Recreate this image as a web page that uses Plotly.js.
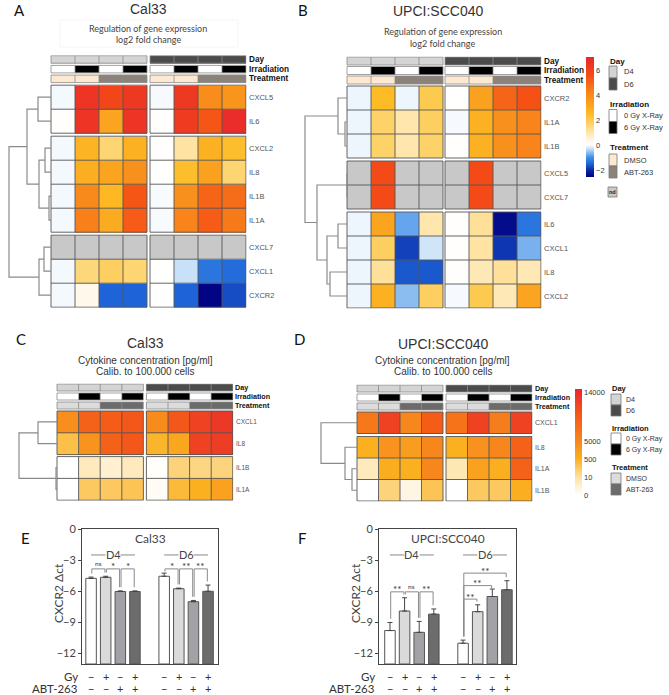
<!DOCTYPE html>
<html><head><meta charset="utf-8">
<script src="https://cdn.plot.ly/plotly-3.0.1.min.js"></script>
<style>body{margin:0;background:#fff}#chart{width:669px;height:695px}</style>
</head><body><div id="chart"></div>
<script>
// ================= DATA =================
// column annotation (8 columns: D4 x4, D6 x4)
const annDay   = [0,0,0,0,1,1,1,1];
const annIrr   = [0,1,0,1,0,1,0,1];
const annTreat = [0,0,1,1,0,0,1,1];
const dayNames = ['D4','D6'];
const irrNames = ['0 Gy X-Ray','6 Gy X-Ray'];
const treatNames = ['DMSO','ABT-263'];

// Panel A: Cal33 log2 fold change (null = nd)
const genesA = ['CXCL5','IL6','CXCL2','IL8','IL1B','IL1A','CXCL7','CXCL1','CXCR2'];
const groupsA = [2,4,3];
const fcA = [
  [-0.06, 6.5, 5.8, 6.3, -0.05, 6.3, 3.9, 3.7],
  [ 0.05, 6.5, 3.2, 6.5,  0.04, 6.2, 5.3, 6.8],
  [-0.06, 2.7, 1.6, 2.8,  0.03, 1.1, 2.8, 2.4],
  [-0.06, 2.9, 3.2, 3.8,  0.02, 2.4, 3.3, 1.6],
  [-0.06, 4.0, 2.6, 5.3, -0.04, 3.8, 5.0, 4.8],
  [-0.06, 4.3, 3.0, 5.2, -0.04, 4.2, 5.2, 4.5],
  [null, null, null, null, null, null, null, null],
  [-0.06, 1.5, 1.8, 1.6,  0.02, -0.3, -1.3, -1.4],
  [-0.06, 0.3, -1.5, -1.5, 0.02, -1.5, -2.5, -1.7]
];
const linkA = [[0,1,13],[2,3,6],[4,5,2],[10,11,12],[9,12,24],[6,7,7],[14,8,12],[13,15,42]];

// Panel B: UPCI:SCC040 log2 fold change
const genesB = ['CXCR2','IL1A','IL1B','CXCL5','CXCL7','IL6','CXCL1','IL8','CXCL2'];
const groupsB = [3,2,4];
const fcB = [
  [-0.1, 2.5, -0.1, 2.0,  0.02, 3.3, 5.0, 5.4],
  [-0.1, 1.7, 1.0, 1.8, -0.05, 2.8, 3.8, 4.2],
  [-0.1, 1.7, 1.0, 1.7,  0.03, 2.8, 3.8, 4.2],
  [null, 5.6, null, null, null, 5.6, null, null],
  [null, 5.6, null, null, null, 5.6, null, null],
  [-0.1, 3.2, -0.8, 1.0,  0.05, 1.2, -2.4, -1.3],
  [-0.1, 1.8, -1.8, -0.25, 0.05, 1.1, -1.9, -0.7],
  [-0.1, 1.2, -1.6, -1.6,  0.05, 0.9, 1.2, 0.9],
  [-0.1, 2.8, -0.6, 1.8, -0.05, 2.0, 0.9, 3.2]
];
const linkB = [[1,2,2],[0,9,9],[3,4,0],[5,6,9],[7,8,17],[12,13,20],[11,14,30],[10,15,42]];

// Panel C: Cal33 cytokine concentration (pg/ml)
const cytC = ['CXCL1','IL8','IL1B','IL1A'];
const groupsC = [2,2];
const concC = [
  [4000, 9000, 9500, 10000, 4500, 10000, 12000, 13000],
  [350, 3500, 9000, 10000, 450, 1500, 12000, 12500],
  [0, 7, 5, 7, 0.5, 150, 120, 140],
  [0, 250, 260, 300, 1, 400, 550, 2000]
];
const linkC = [[0,1,19],[2,3,1],[4,5,38]];

// Panel D: UPCI:SCC040 cytokine concentration (pg/ml)
const cytD = ['CXCL1','IL8','IL1A','IL1B'];
const groupsD = [1,3];
const concD = [
  [6500, 12000, 5000, 9500, 7000, 12000, 6000, 12000],
  [550, 3500, 2500, 5000, 500, 3800, 5000, 9000],
  [7, 800, 500, 5000, 8, 2000, 600, 9000],
  [0, 150, 3, 300, 0, 250, 250, 600]
];
const linkD = [[2,3,5],[1,4,12],[0,5,36]];

// Panels E/F: CXCR2 delta ct (order: D4 [-/-, Gy, ABT, Gy+ABT], D6 same)
const gyFlags  = [0,1,0,1,0,1,0,1];
const abtFlags = [0,0,1,1,0,0,1,1];
const cal33Dct = [-4.75, -4.65, -6.02, -6.02, -4.55, -5.75, -7.0, -6.0];
const cal33Err = [0.12, 0.1, 0.06, 0.06, 0.3, 0.06, 0.12, 0.6];
const cal33Sig = [[0,1,'ns'],[1,2,'*'],[2,3,'*'],[4,5,'*'],[5,6,'**'],[6,7,'**']];
const sccDct = [-9.78, -7.9, -9.95, -8.2, -11.0, -7.96, -6.5, -5.85];
const sccErr = [0.78, 1.28, 1.05, 0.5, 0.3, 0.66, 0.72, 0.87];
const sccSig = [[0,1,'**'],[1,2,'ns'],[2,3,'**'],[4,5,'**'],[4,6,'**'],[4,7,'**']];

// ================= STYLE / LAYOUT =================
const W = 669, H = 695;
const px = x => x / W;
const py = y => 1 - y / H;
const F_AR = 'Liberation Sans, Arial, sans-serif';
const F_CA = 'Lato, Open Sans, sans-serif';

const fcMin = -2.56, fcMax = 7.04;
const fcStops = [[-2.56,'#00007f'],[-2.0,'#0a2aa8'],[-1.5,'#1e64d8'],[-1.0,'#3d8ee8'],[-0.3,'#c8e0f8'],[0,'#ffffff'],[0.5,'#fff3dd'],[1.5,'#fdd87a'],[2.5,'#fdbb25'],[3.5,'#f99a1e'],[4.5,'#f77a1a'],[5.5,'#f54d15'],[7.04,'#e8262e']];
const fcScale = fcStops.map(([v,c]) => [(v - fcMin)/(fcMax - fcMin), c]);

const concBreaks = [0, 10, 500, 5000, 14000, 14800];
const concPos    = [0, 0.17, 0.34, 0.51, 0.965, 1];
function concT(v){
  for (let i=1;i<concBreaks.length;i++){
    if (v <= concBreaks[i]) return concPos[i-1] + (v-concBreaks[i-1])/(concBreaks[i]-concBreaks[i-1])*(concPos[i]-concPos[i-1]);
  }
  return 1;
}
const concScale = [[0,'#ffffff'],[0.17,'#fde1a0'],[0.34,'#fbb020'],[0.51,'#f7861c'],[0.75,'#f45a18'],[1,'#e8262e']];

const dayCols = ['#d4d4d4','#4b4b4b'];
const irrCols = ['#ffffff','#000000'];
const treatColsAB = ['#fde9d2','#8b8279'];
const treatColsCD = ['#dcdcdc','#6b6b6b'];

const traces = [], annotations = [], shapes = [];
const layout = {
  width: W, height: H, margin:{l:0,r:0,t:0,b:0},
  paper_bgcolor:'#ffffff', plot_bgcolor:'rgba(0,0,0,0)',
  showlegend:false, hovermode:false,
  annotations, shapes
};

function axNames(k){
  const s = k === 1 ? '' : String(k);
  return {xa:'x'+s, ya:'y'+s, xl:'xaxis'+s, yl:'yaxis'+s};
}
function txt(x, y, text, size, o){
  annotations.push(Object.assign({xref:'paper', yref:'paper', x:px(x), y:py(y), text, showarrow:false,
    font:{family:F_AR, size, color:'#333'}, xanchor:'center', yanchor:'middle'}, o||{}));
}

function heatPanel(k, geo, P){
  const {xa, ya, xl, yl} = axNames(k);
  const cw = geo.cw, ch = geo.ch, gx = geo.gap / cw;
  const xEdges = [0,1,2,3,4,4+gx,5+gx,6+gx,7+gx,8+gx];
  const colIdx = c => c < 4 ? c : c + 1;
  const segs = [];
  for (let r=0;r<3;r++){
    segs.push({kind:'ann', r, h: geo.annH/ch});
    segs.push({kind:'gap', h: (r<2 ? geo.annGap : geo.annMain)/ch});
  }
  let gi = 0;
  P.groups.forEach((n,g) => {
    for (let j=0;j<n;j++) segs.push({kind:'main', i: gi++, g, h: geo.rowH/ch});
    if (g < P.groups.length-1) segs.push({kind:'gap', h: geo.groupGap/ch});
  });
  const yEdges = [0];
  segs.forEach((s,ix) => { s.y0 = yEdges[ix]; s.y1 = s.y0 + s.h; s.yc = (s.y0+s.y1)/2; yEdges.push(s.y1); });
  const yTot = yEdges[yEdges.length-1];

  const annRows = [annDay, annIrr, annTreat];
  const zAnn = segs.map(s => { const row = new Array(9).fill(null);
    if (s.kind==='ann') annRows[s.r].forEach((v,c) => row[colIdx(c)] = 2*s.r + v); return row; });
  const zMain = segs.map(s => { const row = new Array(9).fill(null);
    if (s.kind==='main') P.values[s.i].forEach((v,c) => { if (v !== null) row[colIdx(c)] = P.zOf(v); }); return row; });
  const zNd = segs.map(s => { const row = new Array(9).fill(null);
    if (s.kind==='main') P.values[s.i].forEach((v,c) => { if (v === null) row[colIdx(c)] = 1; }); return row; });
  const hasNd = P.values.some(r => r.some(v => v === null));

  const tc = P.treatCols;
  const annScale = [[0,dayCols[0]],[0.2,dayCols[1]],[0.4,irrCols[0]],[0.6,irrCols[1]],[0.8,tc[0]],[1,tc[1]]];
  const base = {type:'heatmap', x:xEdges, y:yEdges, xaxis:xa, yaxis:ya, hoverinfo:'skip', zsmooth:false};
  traces.push(Object.assign({}, base, {z:zAnn, colorscale:annScale, zmin:0, zmax:5, showscale:false}));
  traces.push(Object.assign({}, base, {z:zMain, colorscale:P.scale, zmin:P.zmin, zmax:P.zmax,
    showscale: !!P.colorbar, colorbar: P.colorbar}));
  if (hasNd) traces.push(Object.assign({}, base, {z:zNd, colorscale:[[0,'#c8c8c8'],[1,'#c8c8c8']], zmin:0, zmax:1, showscale:false}));

  // cell borders
  const colBlocks = [[0,1,2,3,4],[4+gx,5+gx,6+gx,7+gx,8+gx]];
  function borders(rowBlocks, color, width){
    const bx=[], by=[];
    rowBlocks.forEach(ye => colBlocks.forEach(xe => {
      ye.forEach(y => { bx.push(xe[0], xe[xe.length-1], null); by.push(y, y, null); });
      xe.forEach(x => { bx.push(x, x, null); by.push(ye[0], ye[ye.length-1], null); });
    }));
    traces.push({type:'scatter', mode:'lines', x:bx, y:by, xaxis:xa, yaxis:ya, hoverinfo:'skip',
      line:{color, width}});
  }
  borders(segs.filter(s=>s.kind==='ann').map(s=>[s.y0,s.y1]), '#8a8a8a', 0.8);
  borders(P.groups.map((n,g) => { const rs = segs.filter(s=>s.kind==='main' && s.g===g);
    return [rs[0].y0].concat(rs.map(s=>s.y1)); }), '#555555', 0.9);

  // dendrogram
  const mains = segs.filter(s=>s.kind==='main');
  const nodeY = mains.map(s=>s.yc), nodeH = mains.map(()=>0);
  const maxH = Math.max(...P.link.map(l=>l[2]));
  const hx = h => -h/maxH*geo.dendro/cw;
  const dx=[], dy=[];
  P.link.forEach(([a,b,h]) => {
    dx.push(hx(nodeH[a]), hx(h), hx(h), hx(nodeH[b]), null);
    dy.push(nodeY[a], nodeY[a], nodeY[b], nodeY[b], null);
    nodeY.push((nodeY[a]+nodeY[b])/2); nodeH.push(h);
  });
  traces.push({type:'scatter', mode:'lines', x:dx, y:dy, xaxis:xa, yaxis:ya, hoverinfo:'skip',
    line:{color:'#8a8a8a', width:1.2}});

  // labels
  const xLab = 8 + gx;
  const anns = segs.filter(s=>s.kind==='ann');
  ['Day','Irradiation','Treatment'].forEach((t,r) => annotations.push({xref:xa, yref:ya, x:xLab, y:anns[r].yc,
    text:'<b>'+t+'</b>', showarrow:false, xanchor:'left', yanchor:'middle', xshift:0.5,
    font:{family:F_AR, size:geo.annFont, color:'#111'}}));
  mains.forEach(s => annotations.push({xref:xa, yref:ya, x:xLab, y:s.yc, text:P.names[s.i], showarrow:false,
    xanchor:'left', yanchor:'middle', xshift:1, font:{family:F_AR, size:geo.labFont, color:'#555'}}));

  const lpx = geo.left - geo.dendro - 2, rpx = geo.left + 8*cw + geo.gap + 0.5;
  layout[xl] = {domain:[px(lpx), px(rpx)], range:[-(geo.dendro+2)/cw, 8+gx+0.5/cw], visible:false, fixedrange:true, anchor:ya};
  layout[yl] = {domain:[py(geo.top + yTot*ch + 0.5), py(geo.top - 0.5)], range:[yTot + 0.5/ch, -0.5/ch], visible:false, fixedrange:true, anchor:xa};
}

// ---- Panel A
heatPanel(1, {left:51, top:55.7, cw:24, ch:24, rowH:24, gap:3, annH:7.5, annGap:2.2, annMain:2.6, groupGap:3, dendro:42, annFont:8.2, labFont:7.5},
  {names:genesA, groups:groupsA, values:fcA, link:linkA, zOf:v=>v, scale:fcScale, zmin:fcMin, zmax:fcMax, treatCols:treatColsAB});
// ---- Panel B
heatPanel(2, {left:347, top:57, cw:24, ch:24, rowH:24, gap:2, annH:8, annGap:1.5, annMain:2, groupGap:3, dendro:42, annFont:8.2, labFont:7.5},
  {names:genesB, groups:groupsB, values:fcB, link:linkB, zOf:v=>v, scale:fcScale, zmin:fcMin, zmax:fcMax, treatCols:treatColsAB,
   colorbar:{x:px(586), xanchor:'left', xref:'paper', y:py(57), yanchor:'top', yref:'paper', len:120, lenmode:'pixels',
     thickness:8, thicknessmode:'pixels', outlinewidth:0, tickvals:[-2,0,2,4,6], ticks:'', xpad:0, ypad:0,
     tickfont:{family:F_AR, size:7.5, color:'#333'}}});
// ---- Panel C
heatPanel(3, {left:57, top:384, cw:21.6, ch:21.8, rowH:21.8, gap:3, annH:7, annGap:2, annMain:2, groupGap:2, dendro:38, annFont:7.2, labFont:6.5},
  {names:cytC, groups:groupsC, values:concC, link:linkC, zOf:concT, scale:concScale, zmin:0, zmax:1, treatCols:treatColsCD});
// ---- Panel D
heatPanel(4, {left:357, top:385, cw:21.5, ch:21.5, rowH:21.5, gap:3, annH:7, annGap:2, annMain:2, groupGap:3, dendro:36, annFont:7.2, labFont:7},
  {names:cytD, groups:groupsD, values:concD, link:linkD, zOf:concT, scale:concScale, zmin:0, zmax:1, treatCols:treatColsCD,
   colorbar:{x:px(575), xanchor:'left', xref:'paper', y:py(389), yanchor:'top', yref:'paper', len:106, lenmode:'pixels',
     thickness:7, thicknessmode:'pixels', outlinewidth:0, ticks:'', xpad:0, ypad:0,
     tickvals:[0,10,500,5000,14000].map(concT), ticktext:['0','10','500','5000','14000'],
     tickfont:{family:F_AR, size:7.5, color:'#333'}}});

// ---- Legends
function legend(L, treatCols){
  const groups = [['Day', dayNames, dayCols], ['Irradiation', irrNames, irrCols], ['Treatment', treatNames, treatCols]];
  groups.forEach(([title, names, cols], gIdx) => {
    txt(L.x - 1, L.titleY[gIdx], '<b>'+title+'</b>', L.fT, {xanchor:'left', font:{family:F_AR, size:L.fT, color:'#111'}});
    names.forEach((n, j) => {
      const top = L.boxTop[gIdx] + j*L.h;
      shapes.push({type:'rect', xref:'paper', yref:'paper', x0:px(L.x), x1:px(L.x+L.w), y0:py(top+L.h), y1:py(top),
        fillcolor:cols[j], line:{color:'#777', width:0.8}});
      txt(L.labX, top + L.h/2, n, L.fL, {xanchor:'left', font:{family:F_AR, size:L.fL, color:'#333'}});
    });
  });
}
legend({x:609, w:8, h:12, titleY:[61,104,148], boxTop:[66,109.5,154], labX:622, fT:8, fL:7.5}, treatColsAB);
shapes.push({type:'rect', xref:'paper', yref:'paper', x0:px(608), x1:px(617), y0:py(197), y1:py(187), fillcolor:'#c8c8c8', line:{color:'#777', width:0.8}});
txt(612.5, 192, '<b>nd</b>', 5.5, {font:{family:F_AR, size:5.5, color:'#222'}});
legend({x:611, w:10, h:11, titleY:[388,428.5,467.5], boxTop:[394,433,473], labX:624, fT:7.5, fL:7}, treatColsCD);

// ---- Titles
const letterFont = {family:F_CA, size:15, color:'#111'};
txt(19, 10, 'A', 15, {font:letterFont});
txt(303, 10, 'B', 15, {font:letterFont});
txt(21, 339, 'C', 15, {font:letterFont});
txt(299, 339, 'D', 15, {font:letterFont});
txt(26, 538, 'E', 15, {font:letterFont});
txt(302, 538, 'F', 15, {font:letterFont});

const subFont = {family:F_CA, size:9, color:'#444'};
txt(148, 9, 'Cal33', 14);
shapes.push({type:'rect', xref:'paper', yref:'paper', x0:px(60), x1:px(238), y0:py(47), y1:py(20), line:{color:'#f4f4f4', width:1}});
txt(148, 28, 'Regulation of gene expression', 9, {font:subFont});
txt(148, 40, 'log2 fold change', 9, {font:subFont});
txt(438, 11.5, 'UPCI:SCC040', 14);
txt(443, 32, 'Regulation of gene expression', 9, {font:subFont});
txt(443, 43, 'log2 fold change', 9, {font:subFont});
txt(145, 343.5, 'Cal33', 14);
txt(145, 360, 'Cytokine concentration [pg/ml]', 10);
txt(145, 371.5, 'Calib. to 100.000 cells', 10);
txt(443, 344, 'UPCI:SCC040', 14);
txt(443, 360, 'Cytokine concentration [pg/ml]', 10);
txt(443, 371.5, 'Calib. to 100.000 cells', 10);

// ---- Bar panels
const condCols = ['#ffffff','#dadada','#a2a2a6','#6c6c6c'];
const yFloor = -13;
function barPanel(k, geo, vals, errs, sig, sigLevels, title){
  const {xa, ya, xl, yl} = axNames(k);
  const xs = vals.map((v,i) => 1 + (i%4) + 5*Math.floor(i/4));
  traces.push({type:'bar', x:xs, y:vals.map(v => v - yFloor), base:yFloor, width:0.72, xaxis:xa, yaxis:ya,
    marker:{color:xs.map((x,i)=>condCols[i%4]), line:{color:'#555', width:1}}, hoverinfo:'skip'});
  traces.push({type:'scatter', mode:'markers', x:xs, y:vals, xaxis:xa, yaxis:ya, hoverinfo:'skip',
    marker:{size:2, color:'rgba(0,0,0,0)'},
    error_y:{type:'data', symmetric:false, array:errs, arrayminus:errs.map(()=>0), color:'#444', thickness:1, width:2.5}});
  // day group labels
  [0,1].forEach(g => {
    const x0 = xs[4*g], x3 = xs[4*g+3], mid = (x0+x3)/2;
    [[x0, mid-0.52],[mid+0.52, x3]].forEach(([a,b]) => shapes.push({type:'line', xref:xa, yref:ya, x0:a, x1:b, y0:-2.5, y1:-2.5, line:{color:'#888', width:1}}));
    annotations.push({xref:xa, yref:ya, x:mid, y:-2.5, text:dayNames[g], showarrow:false, yanchor:'middle', font:{family:F_CA, size:11, color:'#444'}});
  });
  // brackets
  sig.forEach(([i,j,lab], n) => {
    const lv = sigLevels[n];
    const a = xs[i] + 0.05, b = xs[j] - 0.05;
    const li = Math.min(lv - 0.25, vals[i] + errs[i] + 0.35);
    const lj = Math.min(lv - 0.25, vals[j] + errs[j] + 0.35);
    shapes.push({type:'path', xref:xa, yref:ya, path:`M${a},${li} L${a},${lv} L${b},${lv} L${b},${lj}`, line:{color:'#8a8a8a', width:1}});
    const isNs = lab === 'ns';
    annotations.push({xref:xa, yref:ya, x:(a+b)/2, y:lv + (isNs ? 0.55 : 0.25), text:lab, showarrow:false, yanchor:'middle',
      font:{family:F_CA, size:isNs ? 6.5 : 10, color:'#333'}});
  });
  // sign rows
  xs.forEach((x,i) => {
    annotations.push({xref:xa, yref:'paper', x, y:py(676), text:gyFlags[i] ? '+' : '−', showarrow:false, xanchor:'center', yanchor:'middle', font:{family:F_CA, size:11, color:'#333'}});
    annotations.push({xref:xa, yref:'paper', x, y:py(688), text:abtFlags[i] ? '+' : '−', showarrow:false, xanchor:'center', yanchor:'middle', font:{family:F_CA, size:11, color:'#333'}});
  });
  txt(geo.l - 2, 676, 'Gy', 11.5, {xanchor:'right', font:{family:F_CA, size:11.5, color:'#333'}});
  txt(geo.l - 2, 688, 'ABT-263', 11.5, {xanchor:'right', font:{family:F_CA, size:11.5, color:'#333'}});
  txt(geo.l - 24, 593, 'CXCR2 Δct', 12, {textangle:-90, font:{family:F_CA, size:12, color:'#444'}});
  txt((geo.l + geo.r)/2, 538, title, 12, {font:{family:F_CA, size:12, color:'#444'}});

  layout[xl] = {domain:[px(geo.l), px(geo.r)], range:geo.xr, showline:true, mirror:true, linecolor:'#444', linewidth:1,
    showticklabels:false, ticks:'', showgrid:false, zeroline:false, fixedrange:true, anchor:ya};
  layout[yl] = {domain:[py(664), py(529)], range:[yFloor, 0], tickvals:[0,-3,-6,-9,-12], ticks:'outside', ticklen:3,
    tickcolor:'#444', showline:true, mirror:true, linecolor:'#444', linewidth:1, showgrid:false, zeroline:false,
    tickfont:{family:F_CA, size:11, color:'#444'}, fixedrange:true, anchor:xa};
}
barPanel(5, {l:82, r:218, xr:[0.38, 9.68]}, cal33Dct, cal33Err, cal33Sig, [-3.84,-3.84,-3.84,-3.84,-3.84,-3.84], 'Cal33');
barPanel(6, {l:379, r:516, xr:[0.25, 9.62]}, sccDct, sccErr, sccSig, [-6.05,-6.05,-6.05,-6.75,-5.45,-4.25], 'UPCI:SCC040');

Plotly.newPlot('chart', traces, layout, {staticPlot:true, displayModeBar:false});
</script>
</body></html>
